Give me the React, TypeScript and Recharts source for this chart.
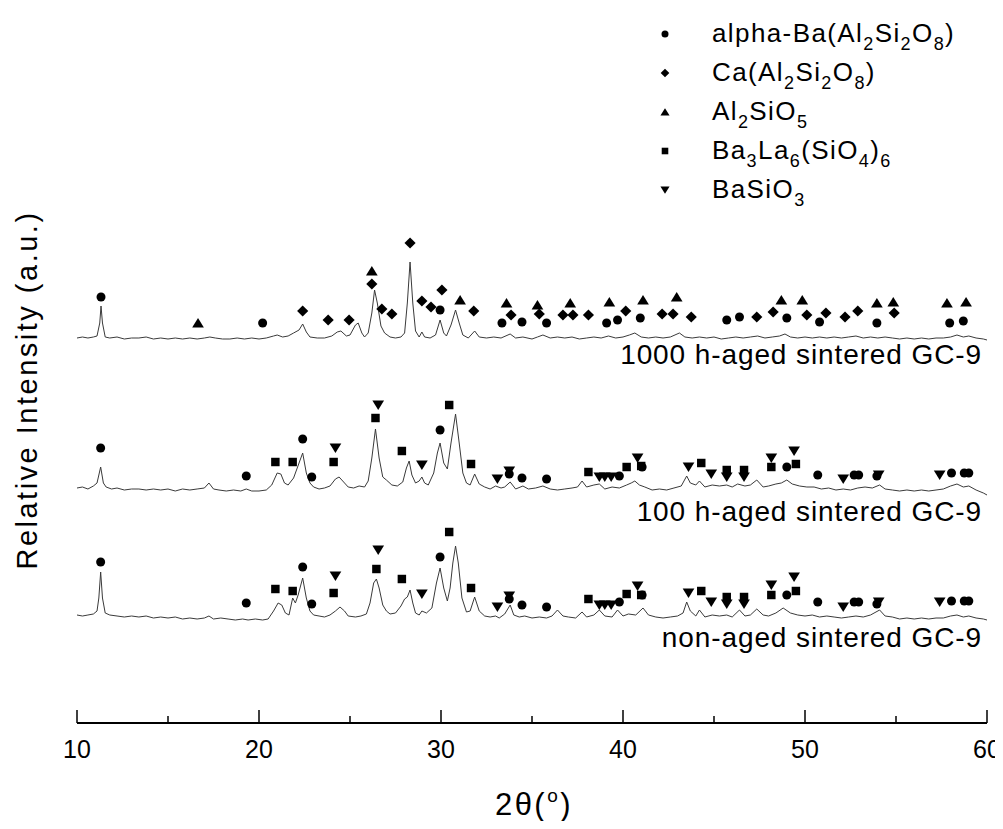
import React from "react";
import { ComposedChart, Line, Scatter, XAxis, YAxis } from "recharts";

// 2θ axis ticks (labels only on the decades)
const THETA_TICKS = [10, 15, 20, 25, 30, 35, 40, 45, 50, 55, 60];
const THETA_LABELS = [10, 20, 30, 40, 50, 60];

// diffraction patterns as [2θ, intensity] (traces are offset vertically)
const aged1000h: [number, number][] = [
  [10.0, 385], [10.3, 386], [10.6, 385], [10.9, 386], [11.1, 387], [11.25, 400], [11.32, 417], [11.4, 400], [11.55, 386],
  [11.8, 385], [12.2, 386], [12.6, 384], [13.0, 385], [13.4, 385], [13.8, 386], [14.2, 384], [14.6, 385], [15.0, 384],
  [15.4, 385], [15.8, 384], [16.2, 385], [16.6, 384], [17.0, 385], [17.3, 386], [17.6, 385], [18.0, 384], [18.4, 384],
  [18.8, 385], [19.2, 384], [19.6, 385], [20.0, 384], [20.4, 385], [20.8, 387], [21.0, 388], [21.3, 386], [21.6, 387],
  [21.9, 390], [22.2, 393], [22.4, 399], [22.6, 391], [22.8, 386], [23.2, 385], [23.6, 385], [24.0, 387], [24.3, 391],
  [24.5, 392], [24.8, 387], [25.0, 388], [25.3, 398], [25.45, 400], [25.65, 390], [25.8, 386], [26.0, 390], [26.2, 410],
  [26.35, 433], [26.5, 420], [26.7, 397], [26.9, 390], [27.2, 386], [27.5, 385], [27.8, 386], [28.0, 390], [28.15, 420],
  [28.3, 461], [28.45, 420], [28.6, 392], [28.8, 386], [28.95, 391], [29.1, 386], [29.4, 385], [29.7, 388], [29.95, 403],
  [30.15, 390], [30.3, 387], [30.55, 398], [30.8, 413], [31.0, 400], [31.2, 388], [31.5, 385], [31.85, 392], [32.1, 386],
  [32.5, 385], [32.9, 386], [33.3, 385], [33.8, 389], [34.1, 385], [34.5, 386], [35.0, 384], [35.3, 386], [35.6, 388],
  [36.0, 385], [36.4, 386], [36.8, 385], [37.2, 386], [37.6, 384], [38.0, 385], [38.4, 386], [38.8, 385], [39.2, 387],
  [39.6, 385], [40.0, 386], [40.35, 388], [40.65, 390], [41.0, 386], [41.4, 385], [41.8, 386], [42.2, 385], [42.6, 386],
  [43.1, 390], [43.4, 386], [43.8, 385], [44.2, 386], [44.6, 385], [45.0, 386], [45.4, 384], [45.8, 385], [46.2, 386],
  [46.6, 385], [47.0, 386], [47.4, 387], [47.8, 385], [48.2, 386], [48.6, 387], [48.9, 389], [49.2, 386], [49.6, 385],
  [50.0, 386], [50.4, 385], [50.8, 386], [51.2, 385], [51.6, 386], [52.0, 385], [52.4, 386], [52.8, 387], [53.2, 385],
  [53.6, 386], [54.0, 385], [54.4, 386], [54.8, 385], [55.2, 384], [55.6, 385], [56.0, 384], [56.4, 385], [56.8, 384],
  [57.2, 385], [57.6, 385], [58.0, 386], [58.35, 388], [58.7, 386], [59.0, 387], [59.4, 385], [59.8, 384], [60.0, 383],
];

const aged100h: [number, number][] = [
  [10.0, 235], [10.3, 236], [10.6, 234], [10.9, 237], [11.1, 240], [11.3, 256], [11.45, 240], [11.6, 236], [11.9, 234],
  [12.2, 235], [12.6, 233], [13.0, 234], [13.4, 234], [13.8, 233], [14.2, 234], [14.6, 233], [15.0, 234], [15.4, 232],
  [15.8, 234], [16.2, 233], [16.6, 234], [17.0, 235], [17.25, 240], [17.5, 234], [17.8, 233], [18.2, 232], [18.6, 233],
  [19.0, 232], [19.3, 234], [19.6, 232], [20.0, 232], [20.4, 233], [20.7, 238], [21.0, 250], [21.2, 249], [21.4, 240],
  [21.6, 238], [21.9, 245], [22.1, 255], [22.4, 270], [22.6, 250], [22.8, 240], [23.0, 236], [23.3, 234], [23.6, 235],
  [23.9, 237], [24.2, 244], [24.4, 246], [24.6, 242], [24.9, 236], [25.2, 235], [25.5, 237], [25.8, 236], [26.0, 242],
  [26.2, 265], [26.4, 294], [26.6, 265], [26.8, 246], [27.0, 243], [27.3, 238], [27.6, 237], [27.9, 241], [28.1, 255],
  [28.25, 262], [28.4, 248], [28.6, 240], [28.8, 242], [28.95, 246], [29.1, 240], [29.3, 238], [29.6, 250], [29.8, 270],
  [29.95, 280], [30.15, 260], [30.35, 254], [30.55, 280], [30.8, 309], [31.0, 280], [31.2, 250], [31.4, 240], [31.6, 238],
  [31.85, 249], [32.1, 239], [32.4, 236], [32.7, 234], [33.0, 237], [33.3, 235], [33.5, 236], [33.8, 241], [34.1, 234],
  [34.5, 237], [34.8, 234], [35.2, 235], [35.6, 237], [36.0, 234], [36.4, 233], [36.8, 234], [37.2, 235], [37.5, 236],
  [37.75, 242], [38.0, 236], [38.4, 238], [38.7, 239], [39.0, 234], [39.4, 236], [39.8, 235], [40.2, 238], [40.45, 240],
  [40.65, 242], [40.9, 238], [41.2, 236], [41.6, 233], [42.0, 234], [42.4, 233], [42.8, 235], [43.2, 237], [43.5, 247],
  [43.7, 240], [44.0, 238], [44.2, 242], [44.5, 236], [44.9, 238], [45.3, 237], [45.7, 238], [46.0, 236], [46.3, 239],
  [46.7, 237], [47.0, 238], [47.35, 243], [47.7, 236], [48.0, 237], [48.4, 239], [48.7, 240], [49.0, 243], [49.3, 239],
  [49.7, 237], [50.1, 236], [50.5, 236], [50.9, 234], [51.3, 235], [51.7, 233], [52.1, 234], [52.5, 233], [52.9, 235],
  [53.3, 236], [53.7, 235], [54.1, 238], [54.4, 234], [54.8, 233], [55.2, 232], [55.6, 233], [56.0, 232], [56.4, 233],
  [56.8, 232], [57.2, 233], [57.6, 234], [58.0, 237], [58.35, 239], [58.7, 236], [59.0, 237], [59.4, 233], [59.8, 230],
  [60.0, 228],
];

const nonAged: [number, number][] = [
  [10.0, 108], [10.3, 107], [10.6, 108], [10.9, 109], [11.1, 112], [11.2, 125], [11.3, 151], [11.4, 125], [11.55, 110],
  [11.8, 108], [12.2, 107], [12.6, 106], [13.0, 107], [13.4, 106], [13.8, 107], [14.2, 105], [14.6, 106], [15.0, 105],
  [15.4, 106], [15.8, 104], [16.2, 105], [16.6, 104], [17.0, 105], [17.25, 107], [17.5, 104], [17.9, 105], [18.3, 104],
  [18.7, 103], [19.1, 104], [19.4, 103], [19.8, 104], [20.2, 103], [20.5, 104], [20.8, 112], [21.05, 120], [21.25, 118],
  [21.45, 110], [21.65, 108], [21.85, 125], [22.0, 120], [22.15, 128], [22.4, 145], [22.6, 125], [22.8, 112], [23.0, 108],
  [23.3, 107], [23.6, 106], [23.9, 108], [24.2, 112], [24.45, 116], [24.7, 112], [24.9, 107], [25.3, 106], [25.6, 107],
  [25.9, 109], [26.1, 120], [26.3, 140], [26.45, 144], [26.6, 135], [26.8, 118], [27.0, 112], [27.2, 109], [27.5, 110],
  [27.8, 117], [28.0, 124], [28.15, 126], [28.3, 133], [28.45, 120], [28.6, 110], [28.8, 108], [28.95, 112], [29.2, 110],
  [29.5, 115], [29.75, 140], [29.95, 155], [30.15, 135], [30.35, 122], [30.5, 135], [30.65, 160], [30.8, 177], [30.95, 160],
  [31.15, 125], [31.4, 111], [31.6, 112], [31.85, 126], [32.1, 112], [32.4, 107], [32.7, 106], [33.0, 107], [33.2, 105],
  [33.5, 109], [33.8, 118], [34.0, 108], [34.3, 106], [34.6, 107], [35.0, 105], [35.4, 106], [35.8, 105], [36.1, 107],
  [36.4, 113], [36.7, 107], [37.0, 106], [37.4, 105], [37.75, 111], [38.0, 106], [38.4, 108], [38.7, 113], [39.0, 107],
  [39.4, 106], [39.7, 113], [40.0, 107], [40.3, 109], [40.7, 108], [41.1, 115], [41.4, 108], [41.8, 106], [42.2, 105],
  [42.6, 106], [43.0, 107], [43.3, 110], [43.5, 121], [43.7, 112], [44.0, 107], [44.2, 113], [44.5, 106], [44.9, 108],
  [45.3, 107], [45.7, 108], [46.0, 106], [46.4, 113], [46.7, 107], [47.0, 108], [47.35, 114], [47.7, 108], [48.0, 107],
  [48.4, 110], [48.8, 115], [49.2, 110], [49.6, 108], [50.0, 107], [50.4, 108], [50.8, 106], [51.2, 107], [51.6, 106],
  [52.0, 105], [52.4, 106], [52.8, 107], [53.2, 106], [53.6, 108], [54.1, 113], [54.4, 107], [54.8, 106], [55.2, 104],
  [55.6, 105], [56.0, 104], [56.4, 105], [56.8, 104], [57.2, 105], [57.6, 105], [58.0, 107], [58.35, 108], [58.7, 106],
  [59.0, 107], [59.4, 105], [59.8, 104], [60.0, 103],
];

// phase markers placed above the reflections, [2θ, height]
const alphaBaMarks: [number, number][] = [
  [11.32, 426], [20.2, 400], [29.95, 413], [33.35, 400], [34.45, 401], [35.8, 400], [39.1, 400], [39.7, 403], [40.95, 405],
  [45.7, 403], [46.4, 406], [49.0, 405], [50.8, 401], [53.95, 400], [57.95, 400], [58.7, 402],
  [11.3, 275], [19.3, 247], [22.4, 284], [22.9, 246], [29.95, 293], [33.75, 249], [34.45, 245], [35.8, 244], [39.8, 247],
  [41.05, 256], [49.0, 256], [50.7, 248], [52.7, 248], [52.95, 248], [53.95, 247], [58.05, 250], [58.75, 250], [59.0, 250],
  [11.3, 161], [19.3, 120], [22.4, 156], [22.9, 119], [29.95, 166], [33.75, 124], [34.45, 118], [35.8, 116], [39.8, 121],
  [41.05, 128], [49.0, 128], [50.7, 121], [52.7, 121], [52.95, 121], [53.95, 119], [58.05, 122], [58.75, 122], [59.0, 122],
];

const caMarks: [number, number][] = [
  [22.4, 412], [23.8, 403], [24.95, 403], [26.2, 439], [26.75, 414], [27.3, 409], [28.3, 480], [28.95, 422], [29.45, 416],
  [30.05, 433], [31.8, 412], [33.85, 408], [35.4, 409], [36.7, 408], [37.25, 408], [38.1, 408], [40.15, 412], [42.15, 409],
  [42.75, 409], [43.75, 406], [47.35, 406], [48.25, 411], [50.1, 408], [51.15, 410], [52.2, 406], [52.9, 412], [54.9, 410],
];

const al2sio5Marks: [number, number][] = [
  [16.65, 400], [26.2, 452], [31.05, 423], [33.6, 420], [35.3, 418], [37.1, 420], [39.25, 421], [41.1, 423], [42.95, 426],
  [48.7, 423], [49.85, 423], [53.95, 420], [54.85, 421], [57.8, 420], [58.85, 421],
];

const ba3la6Marks: [number, number][] = [
  [20.9, 261], [21.85, 261], [24.1, 261], [26.4, 305], [27.85, 272], [30.45, 318], [31.65, 259], [38.1, 251], [40.2, 256],
  [41.0, 257], [44.3, 260], [45.7, 253], [46.65, 253], [48.15, 256], [49.5, 259],
  [20.9, 134], [21.85, 132], [24.1, 130], [26.45, 154], [27.85, 144], [30.45, 191], [31.65, 135], [38.1, 124], [40.2, 129],
  [41.0, 128], [44.3, 132], [45.7, 126], [46.65, 126], [48.15, 128], [49.5, 132],
];

const basio3Marks: [number, number][] = [
  [24.2, 275], [26.55, 318], [28.95, 258], [33.1, 244], [33.75, 252], [38.7, 246], [39.0, 246], [39.35, 246], [40.8, 265],
  [43.6, 256], [44.85, 249], [45.7, 246], [46.65, 246], [48.15, 265], [49.4, 272], [52.1, 244], [54.05, 248], [57.4, 248],
  [24.2, 147], [26.55, 173], [28.95, 129], [33.1, 116], [33.75, 127], [38.7, 118], [39.0, 118], [39.35, 118], [40.8, 137],
  [43.6, 130], [44.85, 121], [45.7, 119], [46.65, 119], [48.15, 138], [49.4, 146], [52.1, 116], [54.05, 121], [57.4, 121],
];

const TRACE_LABELS = ["1000 h-aged sintered GC-9", "100 h-aged sintered GC-9", "non-aged sintered GC-9"];

type Seg = [string, boolean];
const LEGEND_ROWS: { shape: string; segs: Seg[] }[] = [
  { shape: "circle", segs: [["alpha-Ba(Al", false], ["2", true], ["Si", false], ["2", true], ["O", false], ["8", true], [")", false]] },
  { shape: "diamond", segs: [["Ca(Al", false], ["2", true], ["Si", false], ["2", true], ["O", false], ["8", true], [")", false]] },
  { shape: "triangle", segs: [["Al", false], ["2", true], ["SiO", false], ["5", true]] },
  { shape: "square", segs: [["Ba", false], ["3", true], ["La", false], ["6", true], ["(SiO", false], ["4", true], [")", false], ["6", true]] },
  { shape: "down", segs: [["BaSiO", false], ["3", true]] },
];

const FONT = "'Liberation Sans', Arial, Helvetica, sans-serif";
const W = 1003;
const H = 829;
const M = { top: 57, right: 16, left: 77, bottom: 46 };

const pts = (rows: [number, number][]) => rows.map(([t, i]) => ({ t, i }));

function markerPath(kind: string, cx: number, cy: number, s: number) {
  switch (kind) {
    case "circle":
      return <circle cx={cx} cy={cy} r={s * 0.5} fill="#000" />;
    case "diamond":
      return <path d={`M${cx},${cy - s * 0.62}L${cx + s * 0.62},${cy}L${cx},${cy + s * 0.62}L${cx - s * 0.62},${cy}Z`} fill="#000" />;
    case "triangle":
      return <path d={`M${cx},${cy - s * 0.55}L${cx + s * 0.65},${cy + s * 0.5}L${cx - s * 0.65},${cy + s * 0.5}Z`} fill="#000" />;
    case "square":
      return <rect x={cx - s * 0.47} y={cy - s * 0.47} width={s * 0.94} height={s * 0.94} fill="#000" />;
    default:
      return <path d={`M${cx},${cy + s * 0.55}L${cx + s * 0.65},${cy - s * 0.5}L${cx - s * 0.65},${cy - s * 0.5}Z`} fill="#000" />;
  }
}

const shapeOf = (kind: string) => (props: any) => markerPath(kind, props.cx ?? 0, props.cy ?? 0, 9);

function ThetaTick(props: any) {
  const { x, y, payload } = props;
  const major = THETA_LABELS.includes(payload.value);
  return (
    <g>
      <line x1={x} y1={y} x2={x} y2={y - (major ? 13 : 7)} stroke="#000" strokeWidth={1.5} />
      {major && (
        <text x={x} y={y + 35} textAnchor="middle" fontSize={25} fontFamily={FONT} fill="#000">
          {payload.value}
        </text>
      )}
    </g>
  );
}

function Formula({ x, y, segs }: { x: number; y: number; segs: Seg[] }) {
  let shifted = false;
  return (
    <text x={x} y={y} fontSize={26} fontFamily={FONT} fill="#000" letterSpacing={1.4}>
      {segs.map(([s, sub], k) => {
        const dy = sub && !shifted ? 8 : !sub && shifted ? -8 : 0;
        shifted = sub;
        return (
          <tspan key={k} dy={dy} fontSize={sub ? 18 : 26}>
            {s}
          </tspan>
        );
      })}
    </text>
  );
}

export default function App() {
  return (
    <div style={{ margin: -8, width: W, height: H, overflow: "hidden" }}>
      <ComposedChart width={W} height={H} margin={M}>
        <XAxis
          type="number"
          dataKey="t"
          domain={[10, 60]}
          ticks={THETA_TICKS}
          interval={0}
          allowDataOverflow
          height={60}
          tickSize={0}
          tickMargin={0}
          tickLine={false}
          axisLine={{ stroke: "#000", strokeWidth: 2 }}
          tick={<ThetaTick />}
        />
        <YAxis
          type="number"
          dataKey="i"
          domain={[0, 666]}
          allowDataOverflow
          width={0}
          tick={false}
          tickLine={false}
          axisLine={{ stroke: "#000", strokeWidth: 2 }}
        />
        <Line data={pts(aged1000h)} dataKey="i" type="linear" stroke="#3a3a3a" strokeWidth={1} dot={false} activeDot={false} isAnimationActive={false} />
        <Line data={pts(aged100h)} dataKey="i" type="linear" stroke="#3a3a3a" strokeWidth={1} dot={false} activeDot={false} isAnimationActive={false} />
        <Line data={pts(nonAged)} dataKey="i" type="linear" stroke="#3a3a3a" strokeWidth={1} dot={false} activeDot={false} isAnimationActive={false} />
        <Scatter data={pts(alphaBaMarks)} dataKey="i" shape={shapeOf("circle")} isAnimationActive={false} />
        <Scatter data={pts(caMarks)} dataKey="i" shape={shapeOf("diamond")} isAnimationActive={false} />
        <Scatter data={pts(al2sio5Marks)} dataKey="i" shape={shapeOf("triangle")} isAnimationActive={false} />
        <Scatter data={pts(ba3la6Marks)} dataKey="i" shape={shapeOf("square")} isAnimationActive={false} />
        <Scatter data={pts(basio3Marks)} dataKey="i" shape={shapeOf("down")} isAnimationActive={false} />

        {/* trace captions */}
        <g fontFamily={FONT} fontSize={28} fill="#000" textAnchor="end" letterSpacing={0.9}>
          <text x={982} y={364}>{TRACE_LABELS[0]}</text>
          <text x={982} y={521}>{TRACE_LABELS[1]}</text>
          <text x={982} y={647}>{TRACE_LABELS[2]}</text>
        </g>

        {/* phase key */}
        {LEGEND_ROWS.map((row, k) => {
          const cy = 34 + k * 39;
          return (
            <g key={row.shape}>
              {markerPath(row.shape, 665, cy, 7)}
              <Formula x={712} y={cy + 8} segs={row.segs} />
            </g>
          );
        })}

        {/* axis titles */}
        <text x={37} y={390} transform="rotate(-90 37 390)" textAnchor="middle" fontSize={29} fontFamily={FONT} fill="#000" letterSpacing={2.5}>
          Relative Intensity (a.u.)
        </text>
        <text x={534} y={815} textAnchor="middle" fontSize={31} fontFamily={FONT} fill="#000" letterSpacing={2.5}>
          2θ(<tspan fontSize={19} dy={-13}>o</tspan><tspan dy={13}>)</tspan>
        </text>
      </ComposedChart>
    </div>
  );
}
